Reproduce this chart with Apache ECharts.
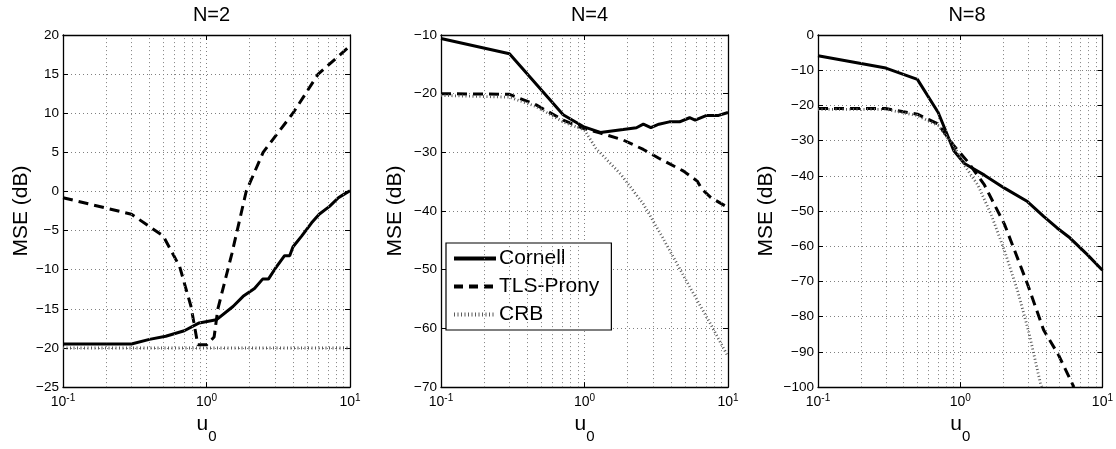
<!DOCTYPE html>
<html><head><meta charset="utf-8">
<script src="https://cdn.jsdelivr.net/npm/echarts@6/dist/echarts.min.js"></script>
<style>html,body{margin:0;padding:0;background:#fff}#c{width:1116px;height:449px}</style>
</head><body><div id="c"></div>
<script>
const seriesNames = ['Cornell', 'TLS-Prony', 'CRB'];
const panelTitles = ['N=2', 'N=4', 'N=8'];
const minorGridU = [0.2, 0.3, 0.4, 0.5, 0.6, 0.7, 0.8, 0.9, 2, 3, 4, 5, 6, 7, 8, 9];
const yMins = [-25, -70, -100];
const yMaxs = [20, -10, 0];
const ySteps = [5, 10, 10];

// N=2
const n2CornellU = [0.1, 0.2, 0.3, 0.4, 0.52, 0.7, 0.89, 1.17, 1.53, 1.8, 2.16, 2.46, 2.7, 3.0, 3.5, 3.8, 4.0, 4.6, 5.4, 6.1, 7.2, 8.3, 9.0, 10];
const n2CornellDb = [-19.5, -19.5, -19.5, -18.9, -18.5, -17.8, -16.8, -16.4, -14.7, -13.4, -12.4, -11.2, -11.2, -9.9, -8.2, -8.2, -7.1, -5.7, -4.0, -2.9, -1.9, -0.8, -0.4, 0.1];
const n2TlsU = [0.1, 0.3, 0.5, 0.65, 0.78, 0.87, 1.0, 1.13, 1.2, 1.5, 1.89, 2.48, 4.0, 6.0, 10];
const n2TlsDb = [-0.8, -2.9, -5.7, -9.6, -14.7, -19.6, -19.6, -18.6, -15, -8, 0, 5, 10, 15, 18.6];
const n2CrbU = [0.1, 0.3, 1, 3, 10];
const n2CrbDb = [-20, -20, -20, -20, -20];

// N=4
const n4CornellU = [0.1, 0.3, 0.71, 0.98, 1.29, 1.86, 2.3, 2.57, 2.9, 3.3, 3.9, 4.6, 5.4, 5.9, 7.1, 8.6, 10];
const n4CornellDb = [-10.6, -13.2, -23.6, -25.6, -26.6, -26.1, -25.8, -25.2, -25.8, -25.2, -24.8, -24.8, -24.1, -24.5, -23.7, -23.7, -23.2];
const n4TlsU = [0.1, 0.3, 0.46, 0.71, 0.98, 1.29, 1.86, 2.57, 3.3, 4.9, 6.1, 6.6, 7.6, 10];
const n4TlsDb = [-20.0, -20.1, -21.9, -24.5, -25.9, -26.7, -27.9, -29.5, -31.0, -33.2, -34.9, -36.3, -37.7, -39.4];
const n4CrbU = [0.1, 0.3, 0.46, 0.71, 1.0, 1.2, 1.8, 2.57, 3.5, 5.1, 7.5, 10];
const n4CrbDb = [-20.3, -20.6, -22.2, -24.8, -26.2, -29.3, -33.8, -38.8, -44.5, -51.8, -59.1, -64.8];

// N=8
const n8CornellU = [0.1, 0.3, 0.5, 0.7, 0.9, 1.07, 1.48, 2.05, 2.97, 3.86, 4.8, 5.9, 7.8, 10];
const n8CornellDb = [-5.9, -9.4, -12.6, -22.0, -32.8, -36.5, -39.8, -43.5, -47.3, -51.5, -54.8, -57.6, -62.3, -66.8];
const n8TlsU = [0.1, 0.3, 0.5, 0.7, 0.9, 1.13, 1.48, 2.05, 2.97, 3.86, 4.9, 6.3];
const n8TlsDb = [-20.9, -20.9, -22.5, -25.3, -31.4, -36.0, -42.6, -53.8, -70.7, -83.8, -90.8, -100];
const n8CrbU = [0.1, 0.3, 0.5, 0.7, 0.9, 1.07, 1.33, 1.65, 2.05, 2.53, 3.05, 3.66, 3.75];
const n8CrbDb = [-21.1, -21.1, -22.9, -25.7, -31.4, -37.0, -42.6, -51.0, -61.3, -72.6, -84.7, -98.8, -100];

const panels = [
  [[n2CornellU, n2CornellDb], [n2TlsU, n2TlsDb], [n2CrbU, n2CrbDb]],
  [[n4CornellU, n4CornellDb], [n4TlsU, n4TlsDb], [n4CrbU, n4CrbDb]],
  [[n8CornellU, n8CornellDb], [n8TlsU, n8TlsDb], [n8CrbU, n8CrbDb]]
];

const FONT = '"Liberation Sans", Arial, Helvetica, sans-serif';
const gridBoxes = [
  {left: 63, top: 35, width: 287, height: 355},
  {left: 441, top: 35, width: 287, height: 355},
  {left: 818, top: 35, width: 288, height: 355}
];
const yNameGaps = [31, 35, 41];
const dotGrid = {color: '#808080', type: [1, 3], width: 1};
const frame = {show: true, onZero: false, lineStyle: {color: '#000', width: 1.3}};
const tickIn = {show: true, inside: true, length: 5, lineStyle: {color: '#000', width: 1}};

const lineStyles = [
  {color: '#000', width: 3, type: 'solid'},
  {color: '#000', width: 3, type: [10, 6]},
  {color: '#5a5a5a', width: 2.8, type: [1, 2.5]}
];
const legendLineStyles = [
  {color: '#000', width: 4, type: 'solid'},
  {color: '#000', width: 4, type: [9, 6]},
  {color: '#5a5a5a', width: 4, type: [1, 2.5]}
];

const xAxes = [], yAxes = [], series = [], titles = [];
gridBoxes.forEach((g, i) => {
  titles.push({
    text: panelTitles[i], left: g.left + g.width / 2, top: 0, textAlign: 'center',
    textStyle: {fontFamily: FONT, fontSize: 20, fontWeight: 'normal', color: '#000'}
  });
  xAxes.push({
    type: 'log', logBase: 10, min: 0.1, max: 10, gridIndex: i, position: 'bottom',
    axisLine: frame, axisTick: tickIn,
    splitLine: {show: true, lineStyle: dotGrid},
    axisLabel: {
      margin: 6, fontFamily: FONT, color: '#000',
      formatter: v => '{b|10}{e|' + Math.round(Math.log10(v)) + '}',
      rich: {
        b: {fontFamily: FONT, fontSize: 14, color: '#000', verticalAlign: 'bottom'},
        e: {fontFamily: FONT, fontSize: 10, color: '#000', verticalAlign: 'bottom', padding: [0, 0, 6, 0]}
      }
    },
    name: '{u|u}{s|0}', nameLocation: 'middle', nameGap: 26,
    nameTextStyle: {
      rich: {
        u: {fontFamily: FONT, fontSize: 21, color: '#000', verticalAlign: 'bottom', padding: [0, 0, 9, 0]},
        s: {fontFamily: FONT, fontSize: 15, color: '#000', verticalAlign: 'bottom'}
      }
    }
  });
  xAxes.push({
    type: 'log', logBase: 10, min: 0.1, max: 10, gridIndex: i, position: 'top',
    axisLine: frame, axisTick: tickIn, axisLabel: {show: false}, splitLine: {show: false}
  });
  yAxes.push({
    type: 'value', min: yMins[i], max: yMaxs[i], interval: ySteps[i], gridIndex: i, position: 'left',
    axisLine: frame, axisTick: tickIn,
    splitLine: {show: true, lineStyle: dotGrid},
    axisLabel: {margin: 4, fontFamily: FONT, fontSize: 13.5, color: '#000',
      formatter: v => String(v).replace('-', '\u2212')},
    name: 'MSE (dB)', nameLocation: 'middle', nameGap: yNameGaps[i],
    nameTextStyle: {fontFamily: FONT, fontSize: 21, color: '#000'}
  });
  yAxes.push({
    type: 'value', min: yMins[i], max: yMaxs[i], interval: ySteps[i], gridIndex: i, position: 'right',
    axisLine: frame, axisTick: tickIn, axisLabel: {show: false}, splitLine: {show: false}
  });
  // minor x grid lines at 2..9 of each decade
  series.push({
    type: 'line', name: 'minor-grid-' + i, xAxisIndex: 2 * i, yAxisIndex: 2 * i, data: [], silent: true,
    markLine: {
      silent: true, symbol: 'none', animation: false, label: {show: false},
      lineStyle: dotGrid, emphasis: {disabled: true},
      data: minorGridU.map(u => ({xAxis: u}))
    }
  });
  panels[i].forEach((s, k) => {
    series.push({
      type: 'line', name: seriesNames[k], xAxisIndex: 2 * i, yAxisIndex: 2 * i,
      data: s[0].map((u, j) => [u, s[1][j]]),
      symbol: 'none', showSymbol: false, clip: true, color: '#000',
      lineStyle: lineStyles[k], itemStyle: {color: '#000'}, z: 3 + k,
      emphasis: {disabled: true}
    });
  });
});

const chart = echarts.init(document.getElementById('c'), null, {renderer: 'canvas'});
chart.setOption({
  animation: false,
  backgroundColor: '#fff',
  title: titles,
  grid: gridBoxes.map(g => Object.assign({containLabel: false}, g)),
  xAxis: xAxes,
  yAxis: yAxes,
  legend: {
    data: seriesNames.map((n, k) => ({name: n, lineStyle: legendLineStyles[k]})),
    orient: 'vertical', left: 446, top: 243,
    itemWidth: 42, itemHeight: 14, itemGap: 7,
    padding: [5, 12, 5, 6],
    borderColor: '#000', borderWidth: 1.2, backgroundColor: '#fff',
    selectedMode: false,
    itemStyle: {opacity: 0},
    textStyle: {fontFamily: FONT, fontSize: 21, color: '#000', padding: [0, 0, 0, -2]}
  },
  series: series
});
</script>
</body></html>
